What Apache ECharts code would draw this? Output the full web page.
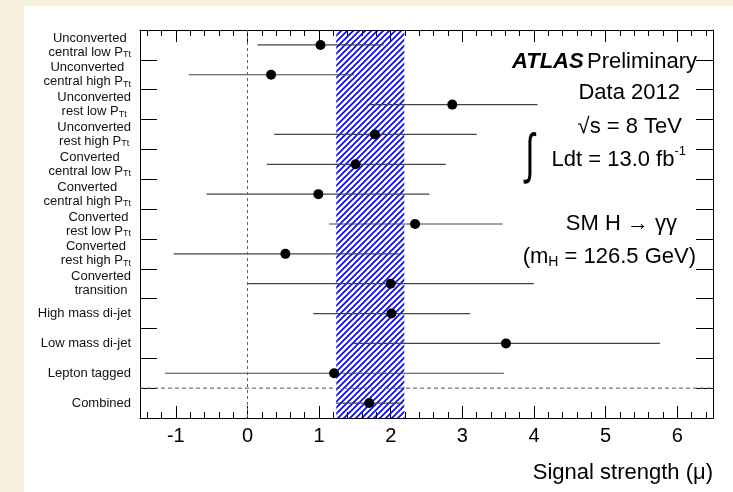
<!DOCTYPE html>
<html>
<head>
<meta charset="utf-8">
<script src="https://cdn.jsdelivr.net/npm/echarts@6/dist/echarts.min.js"></script>
<style>
html,body{margin:0;padding:0;}
body{width:733px;height:492px;background:#f6f0dc;position:relative;overflow:hidden;}
#panel{position:absolute;left:24px;top:6px;right:0;bottom:0;background:#ffffff;}
#chart{position:absolute;left:0;top:0;width:733px;height:492px;}
</style>
</head>
<body>
<div id="panel"></div>
<div id="chart"></div>
<script>
// ---- data ----
const categories = [
  'Unconverted central low PTt', 'Unconverted central high PTt',
  'Unconverted rest low PTt', 'Unconverted rest high PTt',
  'Converted central low PTt', 'Converted central high PTt',
  'Converted rest low PTt', 'Converted rest high PTt',
  'Converted transition', 'High mass di-jet', 'Low mass di-jet',
  'Lepton tagged', 'Combined'
];
const categoryLabels = [
  '{t|Unconverted}\n{t|central low P}{s|Tt}',
  '{t|Unconverted}\n{t|central high P}{s|Tt}',
  '{t|Unconverted}\n{t|rest low P}{s|Tt}',
  '{t|Unconverted}\n{t|rest high P}{s|Tt}',
  '{t|Converted}\n{t|central low P}{s|Tt}',
  '{t|Converted}\n{t|central high P}{s|Tt}',
  '{t|Converted}\n{t|rest low P}{s|Tt}',
  '{t|Converted}\n{t|rest high P}{s|Tt}',
  '{t|Converted}\n{t|transition}',
  '{t|High mass di-jet}',
  '{t|Low mass di-jet}',
  '{t|Lepton tagged}',
  '{t|Combined}'
];
const mu     = [1.02, 0.33, 2.86, 1.78, 1.51, 0.99, 2.34, 0.53, 2.00, 2.01, 3.61, 1.21, 1.70];
const muLow  = [0.14, -0.82, 1.68, 0.37, 0.27, -0.57, 1.14, -1.03, 0.01, 0.92, 1.48, -1.15, 1.24];
const muHigh = [1.90, 1.49, 4.05, 3.20, 2.77, 2.54, 3.56, 2.11, 4.00, 3.11, 5.76, 3.58, 2.17];
const combinedBand = [1.24, 2.19];
const separatorAt = 12;   // boundary between "Lepton tagged" and "Combined"
const xMin = -1.5, xMax = 6.5;
const majorTicks = [-1, 0, 1, 2, 3, 4, 5, 6];
const minorTicks = [-1.4, -1.2, -0.8, -0.6, -0.4, -0.2, 0.2, 0.4, 0.6, 0.8,
  1.2, 1.4, 1.6, 1.8, 2.2, 2.4, 2.6, 2.8, 3.2, 3.4, 3.6, 3.8,
  4.2, 4.4, 4.6, 4.8, 5.2, 5.4, 5.6, 5.8, 6.2, 6.4];

// ---- hatch pattern ----
const pc = document.createElement('canvas');
pc.width = 6; pc.height = 6;
const g = pc.getContext('2d');
g.strokeStyle = '#0000ff'; g.lineWidth = 1.6;
g.beginPath();
g.moveTo(-1, 7); g.lineTo(7, -1);
g.moveTo(-1, 1); g.lineTo(1, -1);
g.moveTo(5, 7); g.lineTo(7, 5);
g.stroke();

const FF = '"Liberation Sans", Arial, Helvetica, sans-serif';
const chart = echarts.init(document.getElementById('chart'), null, {renderer: 'canvas'});

const axisLineStyle = {show: true, onZero: false, lineStyle: {color: '#000', width: 1}};
function xa(pos, ticks, len, showLine, showLabel) {
  return {
    type: 'value', position: pos, min: xMin, max: xMax,
    axisLine: showLine ? axisLineStyle : {show: false, onZero: false},
    axisTick: {show: true, inside: true, length: len, customValues: ticks, lineStyle: {color: '#000', width: 1}},
    axisLabel: showLabel ? {show: true, customValues: majorTicks, fontSize: 20, color: '#000', fontFamily: FF, margin: 8} : {show: false},
    splitLine: {show: false}
  };
}

const option = {
  animation: false,
  grid: {left: 140, top: 30, right: 20, bottom: 74, containLabel: false},
  xAxis: [
    xa('bottom', majorTicks, 12, true, true),
    xa('bottom', minorTicks, 6, false, false),
    xa('top', majorTicks, 12, true, false),
    xa('top', minorTicks, 6, false, false)
  ],
  yAxis: [
    {
      type: 'category', position: 'left', inverse: true, data: categories,
      axisLine: axisLineStyle,
      axisTick: {show: true, inside: true, length: 17, interval: 0, lineStyle: {color: '#000'}},
      axisLabel: {
        interval: 0, margin: 9,
        formatter: (v, i) => categoryLabels[i],
        rich: {
          t: {fontSize: 13, lineHeight: 14, align: 'center', color: '#111', fontFamily: FF},
          s: {fontSize: 9, lineHeight: 6, verticalAlign: 'bottom', align: 'center', color: '#111', fontFamily: FF}
        }
      },
      splitLine: {show: false}
    },
    {
      type: 'value', position: 'right', inverse: true, min: 0, max: categories.length, interval: 1,
      axisLine: axisLineStyle,
      axisTick: {show: true, inside: true, length: 17, lineStyle: {color: '#000'}},
      axisLabel: {show: false},
      splitLine: {show: false}
    }
  ],
  series: [
    {
      type: 'line', xAxisIndex: 0, yAxisIndex: 1, symbol: 'none', silent: true, z: 1,
      data: [[xMin, separatorAt], [xMax, separatorAt]],
      lineStyle: {color: '#555', width: 1, type: [4, 3]}
    },
    {
      type: 'custom', xAxisIndex: 0, yAxisIndex: 0, z: 3, silent: true,
      data: categories.map((c, i) => [muLow[i], muHigh[i], i]),
      encode: {x: [0, 1], y: 2},
      renderItem: (params, api) => {
        const p1 = api.coord([api.value(0), api.value(2)]);
        const p2 = api.coord([api.value(1), api.value(2)]);
        return {type: 'line', shape: {x1: p1[0], y1: p1[1], x2: p2[0], y2: p2[1]},
          style: {stroke: '#444', lineWidth: 1.2}};
      }
    },
    {
      type: 'scatter', xAxisIndex: 0, yAxisIndex: 0, z: 4, silent: true,
      symbol: 'circle', symbolSize: 10,
      itemStyle: {color: '#000', opacity: 1},
      data: mu.map((m, i) => [m, i]),
      markArea: {
        silent: true, z: 0,
        itemStyle: {color: {image: pc, repeat: 'repeat'}, borderWidth: 0, opacity: 1},
        data: [[{xAxis: combinedBand[0]}, {xAxis: combinedBand[1]}]]
      },
      markLine: {
        silent: true, symbol: 'none', label: {show: false},
        lineStyle: {color: '#5a5a90', width: 1, type: [3, 3]},
        data: [{xAxis: 0}]
      }
    }
  ],
  graphic: [
    {type: 'text', x: 697, y: 62, z: 10, style: {
      text: '{b|ATLAS} {n|Preliminary}', align: 'right', verticalAlign: 'middle',
      rich: {
        b: {fontSize: 22, fontWeight: 'bold', fontStyle: 'italic', fontFamily: FF, fill: '#000'},
        n: {fontSize: 22, fontFamily: FF, fill: '#000'}
      }}},
    {type: 'text', x: 680, y: 93, z: 10, style: {text: 'Data 2012', align: 'right', verticalAlign: 'middle', fontSize: 22, fontFamily: FF, fill: '#000'}},
    {type: 'text', x: 682, y: 127, z: 10, style: {text: '√s = 8 TeV', align: 'right', verticalAlign: 'middle', fontSize: 22, fontFamily: FF, fill: '#000'}},
    {type: 'text', x: 530, y: 157, z: 10, scaleY: 1.6, style: {text: '∫', align: 'center', verticalAlign: 'middle', fontSize: 34, fontFamily: FF, fill: '#000'}},
    {type: 'text', x: 686, y: 160, z: 10, style: {
      text: '{n|Ldt = 13.0 fb}{p|-1}', align: 'right', verticalAlign: 'middle',
      rich: {
        n: {fontSize: 22, lineHeight: 30, fontFamily: FF, fill: '#000'},
        p: {fontSize: 13, lineHeight: 10, verticalAlign: 'top', fontFamily: FF, fill: '#000'}
      }}},
    {type: 'text', x: 677, y: 224, z: 10, style: {text: 'SM H → γγ', align: 'right', verticalAlign: 'middle', fontSize: 22, fontFamily: FF, fill: '#000'}},
    {type: 'text', x: 696, y: 257, z: 10, style: {
      text: '{n|(m}{s|H}{n| = 126.5 GeV)}', align: 'right', verticalAlign: 'middle',
      rich: {
        n: {fontSize: 22, lineHeight: 24, fontFamily: FF, fill: '#000'},
        s: {fontSize: 14, lineHeight: 8, verticalAlign: 'bottom', fontFamily: FF, fill: '#000'}
      }}},
    {type: 'text', x: 713, y: 473, z: 10, style: {text: 'Signal strength (μ)', align: 'right', verticalAlign: 'middle', fontSize: 22, fontFamily: FF, fill: '#000'}}
  ]
};
chart.setOption(option);
</script>
</body>
</html>
